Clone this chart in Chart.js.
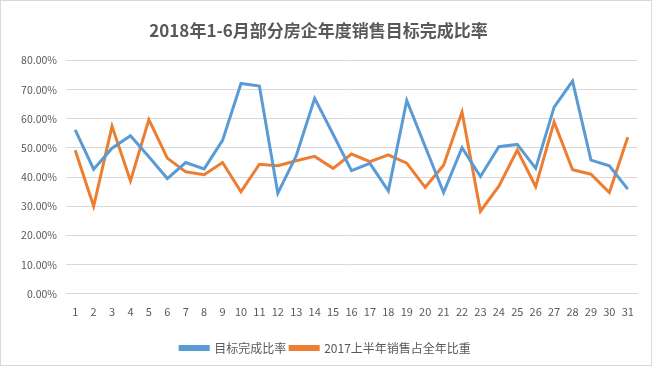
<!DOCTYPE html>
<html>
<head>
<meta charset="utf-8">
<script src="https://cdn.jsdelivr.net/npm/chart.js@4.4.0/dist/chart.umd.min.js"></script>
<style>
  html, body { margin: 0; padding: 0; background: #fff; }
  #wrap { position: relative; width: 653px; height: 367px; }
  #frame { position: absolute; left: 0; top: 0; width: 650px; height: 364px; border: 1px solid #D9D9D9; pointer-events: none; }
</style>
</head>
<body>
<div id="wrap">
  <canvas id="chart" width="653" height="367"></canvas>
  <div id="frame"></div>
</div>
<script>
const titleText = '2018年1-6月部分房企年度销售目标完成比率';
const days = ['1','2','3','4','5','6','7','8','9','10','11','12','13','14','15','16','17','18','19','20','21','22','23','24','25','26','27','28','29','30','31'];
const targetRate = [56.2, 42.7, 49.9, 54.2, 47.0, 39.5, 45.0, 42.8, 52.6, 72.1, 71.2, 34.5, 47.3, 67.0, 54.7, 42.2, 44.7, 35.3, 66.3, 50.5, 34.7, 50.1, 40.2, 50.4, 51.2, 43.0, 64.0, 72.9, 45.8, 43.9, 35.9];
const share2017 = [49.2, 30.0, 57.4, 38.7, 59.7, 46.5, 41.8, 40.8, 45.0, 35.0, 44.4, 43.9, 45.6, 47.1, 43.0, 47.9, 45.3, 47.6, 44.8, 36.5, 44.1, 62.3, 28.3, 36.9, 49.3, 36.7, 58.9, 42.5, 41.0, 34.7, 53.7];

const font = '"Noto Sans CJK SC", "Noto Sans", sans-serif';
const grey = '#595959';

Init();

function Init()
{
    const ctx = document.getElementById('chart').getContext('2d');
    const data = {
        labels: days,
        datasets: [{
            label: '目标完成比率',
            data: targetRate,
            borderColor: '#5B9BD5',
            backgroundColor: '#5B9BD5',
            borderWidth: 3,
            pointRadius: 0,
            tension: 0
        }, {
            label: '2017上半年销售占全年比重',
            data: share2017,
            borderColor: '#ED7D31',
            backgroundColor: '#ED7D31',
            borderWidth: 3,
            pointRadius: 0,
            tension: 0
        }]
    };
    // nudge legend a bit right so it sits centred on the whole frame like the original
    const legendShift = {
        id: 'legendShift',
        afterLayout(chart) {
            chart.legend.left += 7;
            chart.legend.right += 7;
        }
    };
    const config = {
        type: 'line',
        data: data,
        plugins: [legendShift],
        options: {
            responsive: false,
            animation: false,
            layout: { padding: { left: 0, right: 16, top: 8, bottom: 3 } },
            plugins: {
                title: {
                    display: true,
                    text: titleText,
                    color: grey,
                    font: { family: font, size: 17, weight: 'bold' },
                    padding: { top: 12, bottom: 20 }
                },
                legend: {
                    position: 'bottom',
                    labels: {
                        color: grey,
                        font: { family: font, size: 12 },
                        boxWidth: 28,
                        boxHeight: 3,
                        padding: 4
                    }
                },
                tooltip: { enabled: false }
            },
            scales: {
                x: {
                    offset: true,
                    afterFit: function(axis) { axis.height += 17; },
                    grid: { display: false },
                    border: { color: '#D9D9D9' },
                    ticks: { color: grey, font: { family: font, size: 11 }, maxRotation: 0, autoSkip: false }
                },
                y: {
                    min: 0,
                    max: 80,
                    afterFit: function(axis) { axis.width = 66; },
                    grid: { color: '#D9D9D9', drawTicks: false },
                    border: { display: false },
                    ticks: {
                        stepSize: 10,
                        color: grey,
                        font: { family: font, size: 10.5 },
                        padding: 9,
                        callback: v => v.toFixed(2) + '%'
                    }
                }
            }
        }
    };
    new Chart(ctx, config);
}
</script>
</body>
</html>
